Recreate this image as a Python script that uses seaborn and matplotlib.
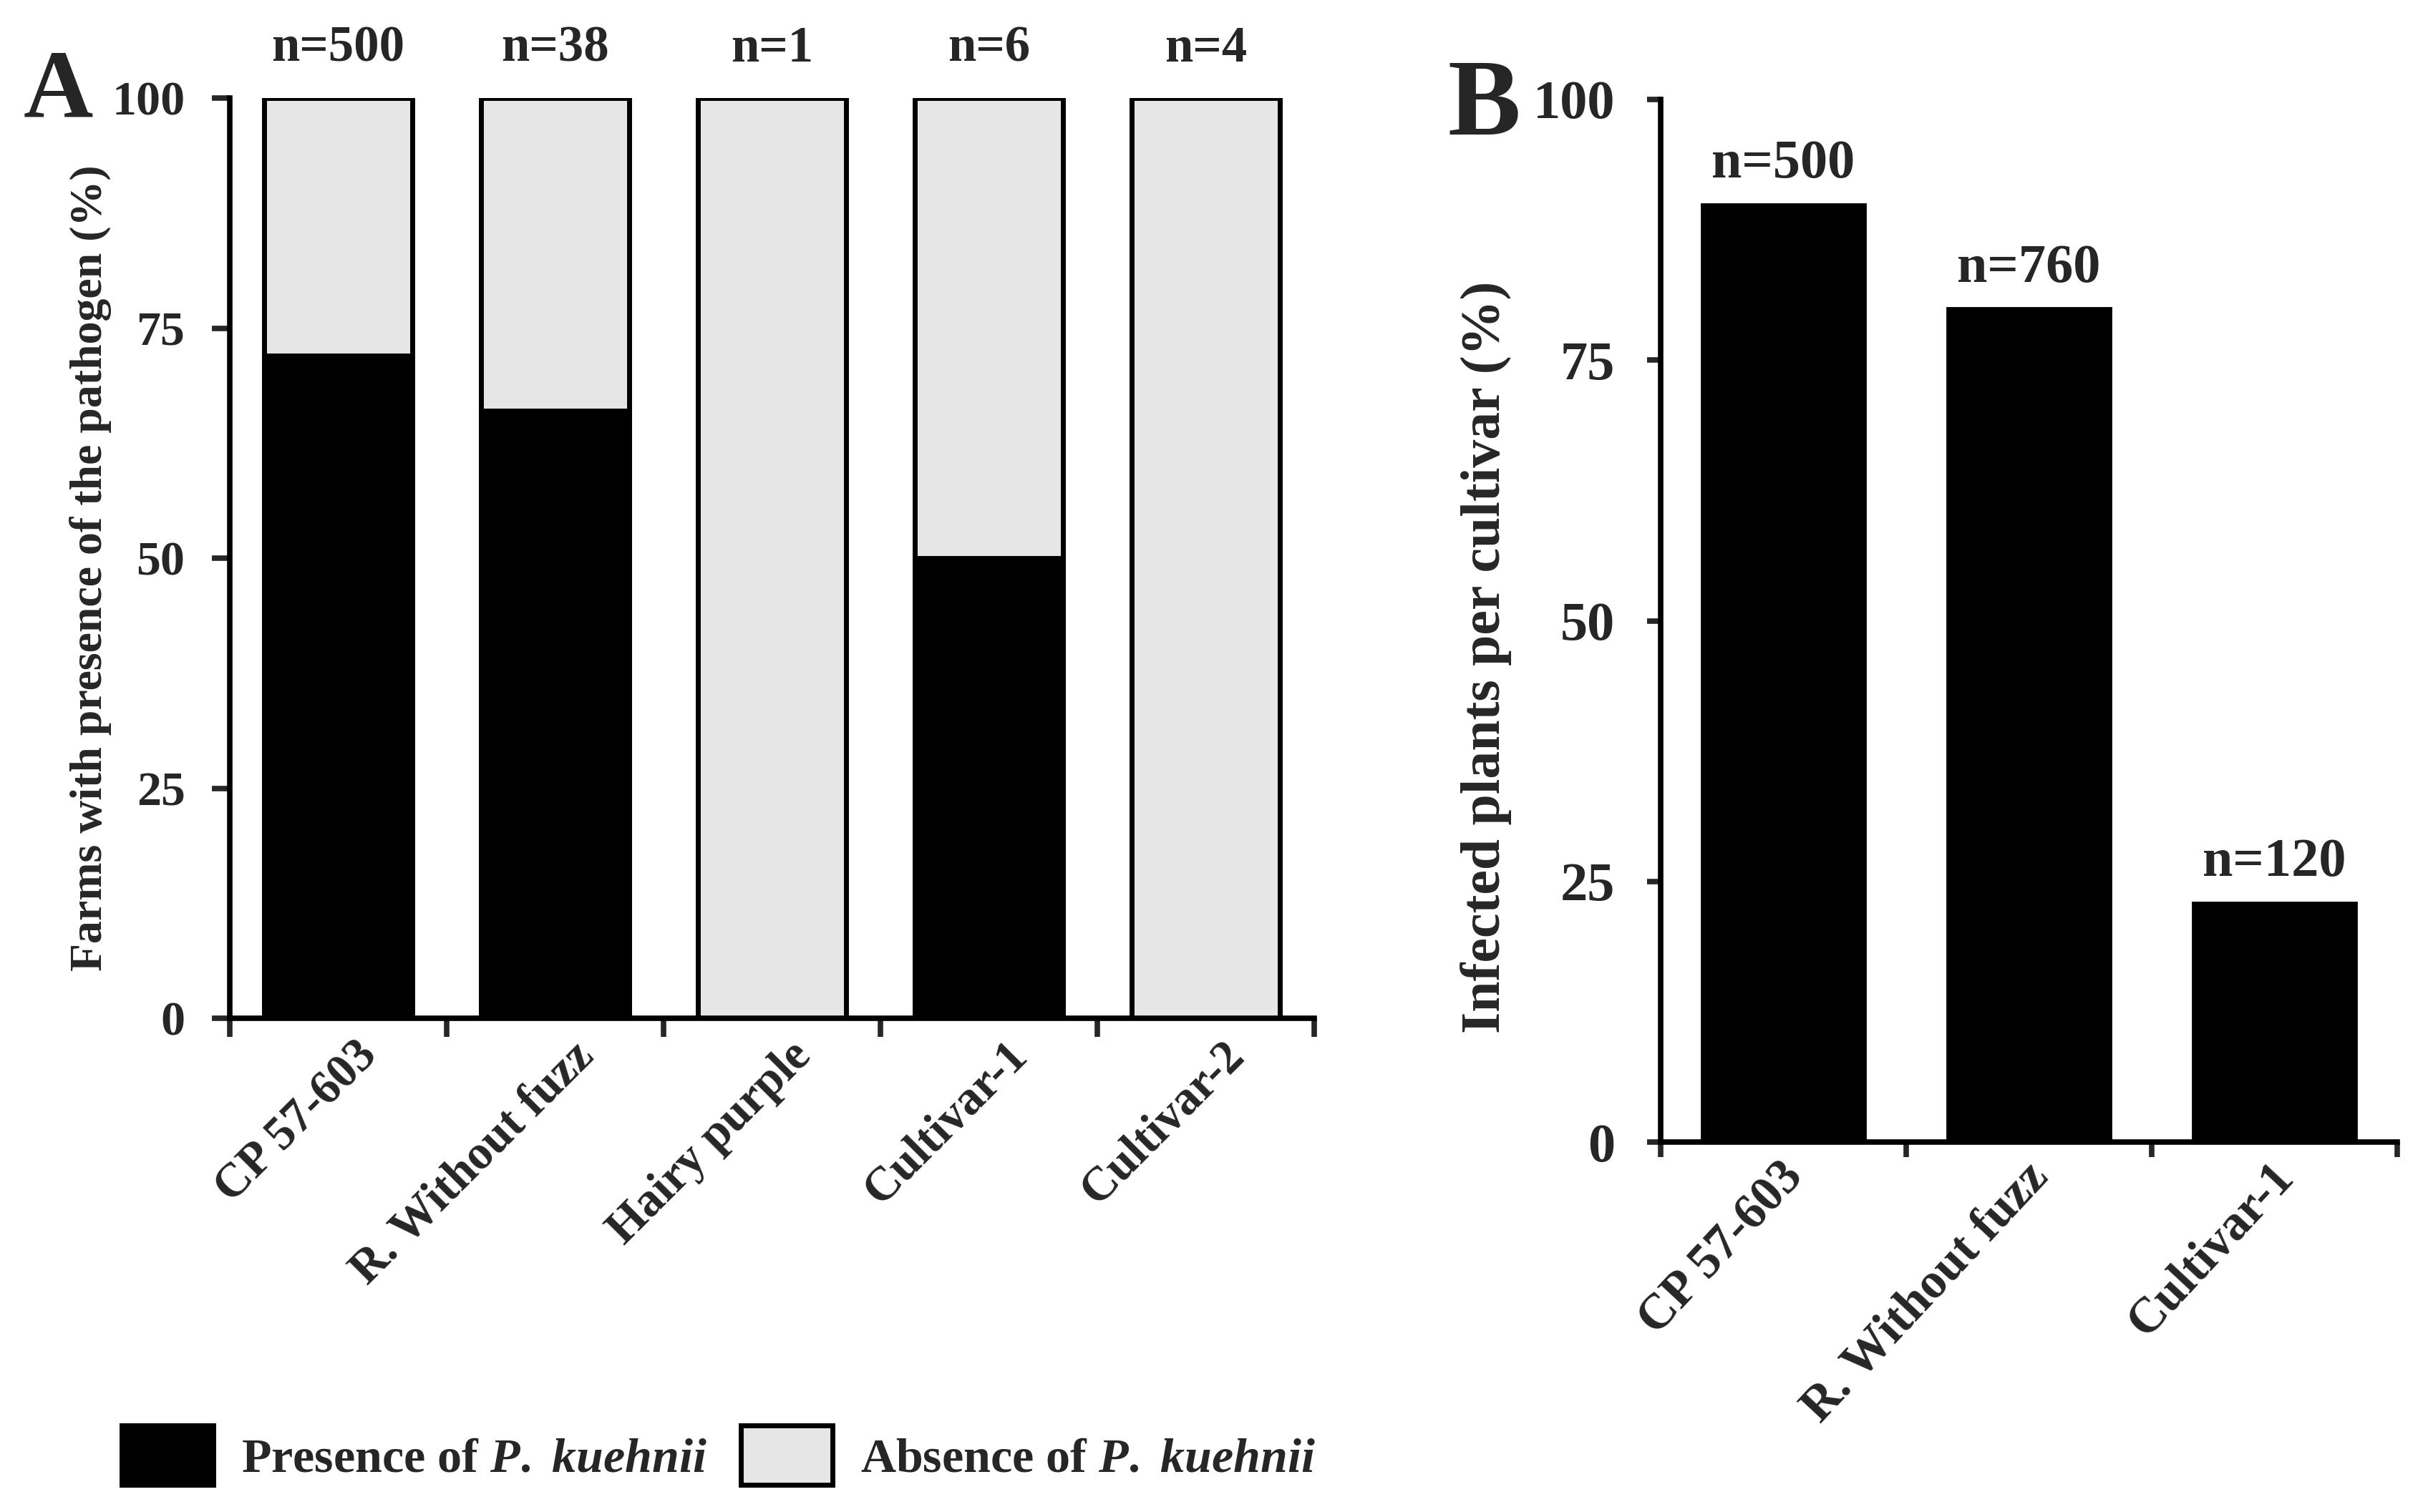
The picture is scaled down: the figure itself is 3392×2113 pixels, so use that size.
import numpy as np
import pandas as pd
import matplotlib
matplotlib.use("Agg")
import matplotlib.pyplot as plt
import matplotlib.transforms as mtransforms
from matplotlib.patches import Patch
import seaborn as sns

# panel A: farms with presence / absence of the pathogen
cultivars_a = ["CP 57-603", "R. Without fuzz", "Hairy purple", "Cultivar-1", "Cultivar-2"]
presence_a = [72, 66, 0, 50, 0]
total_a = [100, 100, 100, 100, 100]
n_a = ["n=500", "n=38", "n=1", "n=6", "n=4"]

# panel B: infected plants per cultivar
cultivars_b = ["CP 57-603", "R. Without fuzz", "Cultivar-1"]
infected_b = [90, 80, 23]
n_b = ["n=500", "n=760", "n=120"]

sns.set_style("ticks")
plt.rcParams["font.family"] = ["Liberation Serif", "DejaVu Serif"]
plt.rcParams["font.weight"] = "bold"
plt.rcParams["mathtext.fontset"] = "custom"
plt.rcParams["mathtext.it"] = "Liberation Serif:italic:bold"
plt.rcParams["mathtext.rm"] = "Liberation Serif:bold"

GRAY = "#e6e6e6"
SPINE_W = 5.5
EDGE_W = 5
DPI = 100

df_a = pd.DataFrame({"cultivar": cultivars_a, "presence": presence_a, "total": total_a})
df_b = pd.DataFrame({"cultivar": cultivars_b, "infected": infected_b})

fig = plt.figure(figsize=(33.92, 21.13), dpi=DPI)
ax_a = fig.add_axes([321 / 3392, 1 - 1423 / 2113, 1515 / 3392, 1286 / 2113])
ax_b = fig.add_axes([2320 / 3392, 1 - 1596 / 2113, 1029 / 3392, 1457 / 2113])


def style_axis(ax, n, tick_size, tick_len, tick_pad):
    sns.despine(ax=ax)
    for s in ["left", "bottom"]:
        ax.spines[s].set_linewidth(SPINE_W)
        ax.spines[s].set_color("black")
    ax.set_ylim(0, 100)
    ax.set_xlim(-0.5, n - 0.5)
    ax.set_yticks([0, 25, 50, 75, 100])
    ax.tick_params(axis="y", length=tick_len, width=SPINE_W, labelsize=tick_size, pad=tick_pad)
    ax.set_xticks(np.arange(-0.5, n), minor=True)
    ax.tick_params(axis="x", which="minor", length=tick_len + 1, width=SPINE_W)
    ax.set_xlabel("")


def set_xlabels(ax, labels, size, rot, pad, dx_px):
    ax.set_xticks(range(len(labels)))
    ax.set_xticklabels(labels, rotation=rot, ha="right", va="center", rotation_mode="anchor",
                       fontsize=size, fontweight="bold")
    ax.tick_params(axis="x", which="major", length=0, pad=pad)
    off = mtransforms.ScaledTranslation(dx_px / DPI, 0, fig.dpi_scale_trans)
    for t in ax.get_xticklabels():
        t.set_transform(t.get_transform() + off)


# ---- panel A ----
sns.barplot(data=df_a, x="cultivar", y="total", order=cultivars_a, color=GRAY,
            edgecolor="black", linewidth=EDGE_W, width=0.68, saturation=1, ax=ax_a)
sns.barplot(data=df_a, x="cultivar", y="presence", order=cultivars_a, color="black",
            edgecolor="black", linewidth=EDGE_W, width=0.68, saturation=1, ax=ax_a)
style_axis(ax_a, len(cultivars_a), 49, 18, 27)
set_xlabels(ax_a, cultivars_a, 48, 45, 31, 45)
ax_a.set_ylabel("Farms with presence of the pathogen (%)", fontsize=46, fontweight="bold")
ax_a.yaxis.set_label_coords(-0.109, 0.489)
for i, lab in enumerate(n_a):
    ax_a.text(i, 104, lab, ha="center", va="baseline", fontsize=51,
              fontweight="bold", clip_on=False)

# ---- panel B ----
sns.barplot(data=df_b, x="cultivar", y="infected", order=cultivars_b, color="black",
            edgecolor="black", linewidth=2, width=0.67, saturation=1, ax=ax_b)
style_axis(ax_b, len(cultivars_b), 55, 14, 32)
set_xlabels(ax_b, cultivars_b, 50, 47, 28, 17)
ax_b.set_ylabel("Infected plants per cultivar (%)", fontsize=56, fontweight="bold")
ax_b.yaxis.set_label_coords(-0.202, 0.465)
for i, (v, lab) in enumerate(zip(infected_b, n_b)):
    ax_b.text(i, v + 2.5, lab, ha="center", va="baseline", fontsize=55, fontweight="bold")

# panel letters
fig.text(0.0239, 1 - 163 / 2113, "A", fontsize=97, fontweight="bold", ha="center", va="baseline")
fig.text(0.6114, 1 - 188 / 2113, "B", fontsize=110, fontweight="bold", ha="center", va="baseline")

# legend
handles = [Patch(facecolor="black", edgecolor="black", linewidth=EDGE_W),
           Patch(facecolor=GRAY, edgecolor="black", linewidth=EDGE_W)]
labels = ["Presence of $\\mathit{P.}$ $\\mathit{kuehnii}$",
          "Absence of $\\mathit{P.}$ $\\mathit{kuehnii}$"]
fig.legend(handles, labels, loc="center", bbox_to_anchor=(0.296, 0.0374), ncol=2,
           frameon=False, fontsize=49, handlelength=1.88, handleheight=1.5,
           handletextpad=0.57, columnspacing=0.7)

fig.savefig("out.png", dpi=DPI)
